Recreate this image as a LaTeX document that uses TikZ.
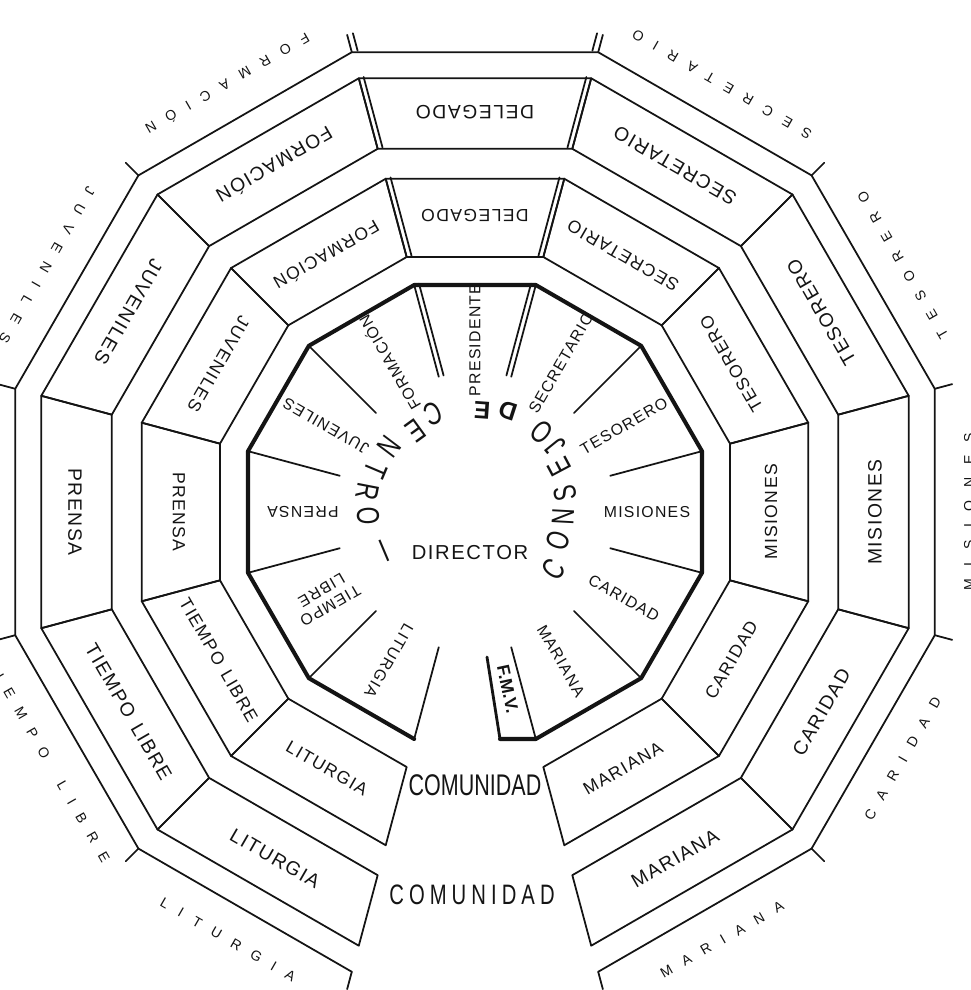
\documentclass[tikz,border=0pt]{standalone}
\usepackage{fontspec}
\setmainfont{Liberation Sans}
\newfontfamily\boxfont[LetterSpace=8]{Liberation Sans}
\newfontfamily\edgefont[LetterSpace=90]{Liberation Sans}
\newfontfamily\tallfont[FakeStretch=0.72]{Liberation Sans}
\newfontfamily\tallwide[FakeStretch=0.72,LetterSpace=18]{Liberation Sans}
\usetikzlibrary{calc}
\definecolor{ink}{HTML}{141414}

\begin{document}
\begin{tikzpicture}[x=0.02cm, y=0.02cm, line join=round, line cap=round,
  wire/.style={draw=ink, line width=1pt},
  rim/.style={draw=ink, line width=2.3pt},
  inlbl/.style={font=\boxfont\fontsize{9}{10}\selectfont, text=ink, inner sep=1pt, align=center},
  midlbl/.style={font=\boxfont\fontsize{10}{12}\selectfont, text=ink, inner sep=1pt},
  outlbl/.style={font=\boxfont\fontsize{11}{13}\selectfont, text=ink, inner sep=1pt},
  edgelbl/.style={font=\edgefont\fontsize{8}{10}\selectfont, text=ink, inner sep=1pt},
  bigch/.style={font=\tallfont\fontsize{18}{20}\selectfont, text=ink, inner sep=0pt},
  comlbl/.style={font=\tallfont\fontsize{17}{20}\selectfont, text=ink, inner sep=1pt}]
\useasboundingbox (-475,-478) rectangle (495,512);
\clip (-475,-478) rectangle (495,512);
\fill[white] (-475,-478) rectangle (495,512);
% two rings of boxes
\foreach \a in {90,60,30,0,-30,-60,-120,-150,180,150,120}
  \draw[wire] (\a-15:264) -- (\a+15:264) -- (\a+15:345) -- (\a-15:345) -- cycle
              (\a-15:376) -- (\a+15:376) -- (\a+15:449) -- (\a-15:449) -- cycle;
\draw[wire] (255:476) \foreach \v in {225,195,...,-75} {-- (\v:476)};
\foreach \v in {255,225,...,-75} {
  \draw[wire] (\v:476) -- (\v:494);
  \draw[wire] (\v:140) -- (\v:235);
}
\foreach \a/\s in {105/15,75/165} {
  \draw[wire] ([shift={(\s:5)}]\a:140) -- ([shift={(\s:5)}]\a:235);
  \draw[wire] ([shift={(\s:5)}]\a:264) -- ([shift={(\s:5)}]\a:345);
  \draw[wire] ([shift={(\s:5)}]\a:376) -- ([shift={(\s:5)}]\a:449);
  \draw[wire] ([shift={(\s:6)}]\a:476) -- ([shift={(\s:6)}]\a:494);
}
\draw[rim] (255:235) \foreach \v in {225,195,...,-75} {-- (\v:235)} -- (25,-227);
\draw[wire, line width=1.6pt] (25,-227) -- (12,-145);
% labels
\foreach \a/\txt [count=\i] in {90/PRESIDENTE,60/SECRETARIO,30/TESORERO,0/MISIONES,-30/CARIDAD,-60/MARIANA,-120/LITURGIA,-150/{TIEMPO\\LIBRE},180/PRENSA,150/JUVENILES,120/FORMACIÓN}
  \node[inlbl, rotate=\a] (in\i) at (\a:172) {\txt};
\node[inlbl, font=\bfseries\fontsize{10}{12}\selectfont, rotate=-78] (fmv) at (-79.5:180) {F.M.V.};
\foreach \a/\txt [count=\i] in {90/DELEGADO,60/SECRETARIO,30/TESORERO,0/MISIONES,-30/CARIDAD,-60/MARIANA,-120/LITURGIA,-150/TIEMPO\enspace LIBRE,180/PRENSA,150/JUVENILES,120/FORMACIÓN} {
  \node[midlbl, rotate=\a+90] (mid\i) at (\a:296) {\txt};
  \node[outlbl, rotate=\a+90] (out\i) at (\a:400) {\txt};
}
\foreach \a/\txt [count=\i] in {120/FORMACIÓN,150/JUVENILES,60/SECRETARIO,30/TESORERO,0/MISIONES,-30/CARIDAD,-60/MARIANA,-120/LITURGIA,-150/TIEMPO\qquad LIBRE}
  \node[edgelbl, rotate=\a+90] (edge\i) at (\a:494) {\txt};
\foreach \ch/\a/\r [count=\i] in {C/-36/97,O/-19/88,N/-3/88,S/12/92,E/28/96,J/39/104,O/50/104,C/113/107,E/126/100,N/143/108,T/157/108,R/169/109,O/182/107,—/203/102}
  \node[bigch, rotate=\a+90] (cc\i) at (\a:\r) {\ch};
\foreach \ch/\a/\r [count=\i] in {D/72/106,E/86/102}
  \node[bigch, font=\bfseries\fontsize{14}{16}\selectfont, rotate=\a+90] (de\i) at (\a:\r) {\ch};
\node[font=\boxfont\fontsize{11.5}{13}\selectfont, text=ink] (director) at (-5,-41) {DIRECTOR};
\node[comlbl] (com1) at (0,-273) {COMUNIDAD};
\node[comlbl, font=\tallwide\fontsize{16}{18}\selectfont] (com2) at (-3,-383) {COMUNIDAD};
\end{tikzpicture}
\end{document}
